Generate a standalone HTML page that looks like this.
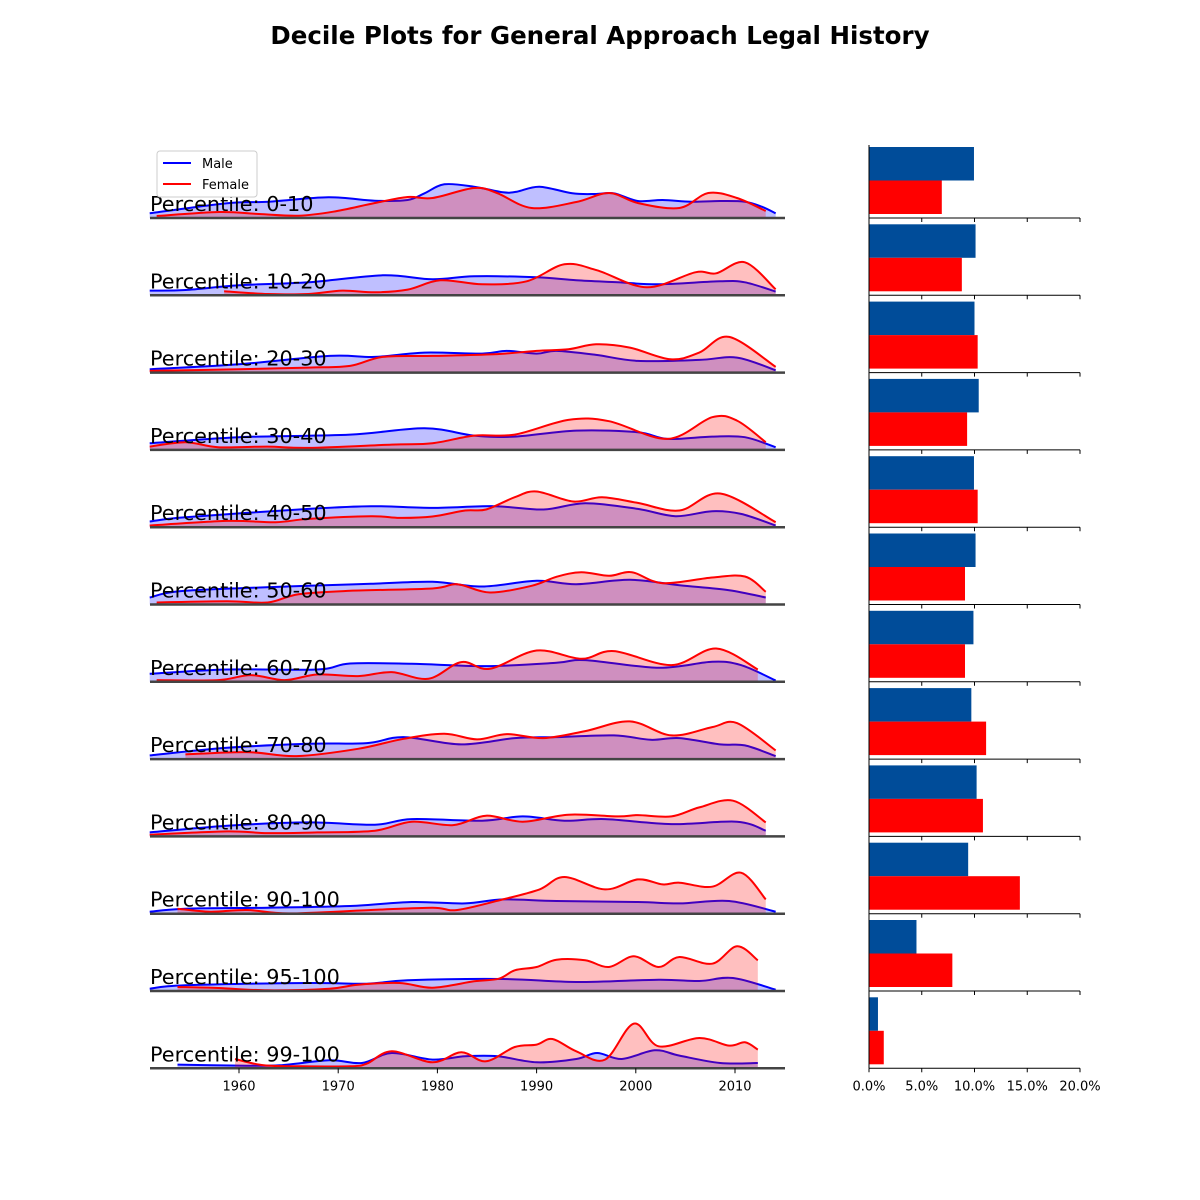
<!DOCTYPE html>
<html><head><meta charset="utf-8"><style>
body{margin:0;background:#fff}
svg{display:block;font-family:"DejaVu Sans","Liberation Sans",sans-serif}
</style></head><body>
<svg id="chart" width="1200" height="1200" viewBox="0 0 1200 1200" xmlns="http://www.w3.org/2000/svg">
<rect width="1200" height="1200" fill="#fff"/>
<text x="600" y="44" text-anchor="middle" font-size="24.5" font-weight="bold">Decile Plots for General Approach Legal History</text>
<g id="rows"></g>
<g id="legend">
<rect x="157" y="151" width="100" height="46" rx="3" fill="#fff" stroke="#ccc"/>
<line x1="163" y1="163" x2="191" y2="163" stroke="#00f" stroke-width="2"/>
<text x="202" y="168" font-size="13">Male</text>
<line x1="163" y1="184" x2="191" y2="184" stroke="#f00" stroke-width="2"/>
<text x="202" y="189" font-size="13">Female</text>
</g>
</svg>
<script>
const labels=["0-10","10-20","20-30","30-40","40-50","50-60","60-70","70-80","80-90","90-100","95-100","99-100"];
const maleYears=[
[1951,1958.8,1963,1969,1973.7,1977,1978.7,1980.7,1983.7,1986.6,1988,1990.3,1993.6,1996,1997.8,2000.2,2002.7,2005.6,2008.5,2011,2012.7,2014.1],
[1951,1954.6,1960,1967,1974.5,1979.5,1983.7,1990,1994,1998.2,2002.3,2008.5,2011,2014.1],
[1951,1960,1969.1,1973.7,1978.7,1984.5,1987,1990,1992,1996,2000.2,2006.4,2010.2,2014.1],
[1951,1960,1971.2,1978.7,1983.7,1987.8,1994,2000.2,2003.2,2007.7,2011,2014.1],
[1951,1954.6,1967,1973.3,1979.5,1985.7,1990.7,1994.9,2000.2,2004,2007.7,2010.6,2014.1],
[1951,1954.6,1967,1973.3,1979.5,1984.5,1990,1994,1999.4,2004.4,2009.4,2013.1],
[1951,1958.8,1967.9,1971.2,1977.4,1984.9,1992,1994.9,2002.3,2007.7,2010.6,2014.1],
[1951,1958.8,1967,1972.9,1976.6,1982.4,1987.8,1992,1997.8,2001.5,2004.4,2008.5,2011,2014.1],
[1951,1958.8,1967,1973.7,1977.4,1984.5,1988.6,1992.8,1996.9,2003.6,2010.2,2013.1],
[1951,1954.6,1962.9,1971.2,1977.4,1982.8,1986.6,1992,2000.2,2004.4,2009.4,2014.1],
[1951,1954.6,1967,1972.9,1977,1986.6,1994,2002.3,2006.4,2009.8,2014.1],
[1953.8,1960,1964.1,1969.1,1972.4,1975.4,1979.5,1982.8,1986.1,1990,1994,1996.1,1998.6,2001.9,2004.4,2008.5,2012.3]];
const maleVals=[
[4.7,14.7,16.3,20.7,17.3,18,24.7,33.7,31.3,25.7,26.3,31.3,24.7,24,24.7,17,18,16.3,17,16.3,11.3,4.7],
[4.7,5.3,10,13,20,16,19,18,15,13,11,14,13,3.7],
[3.3,8.3,16.7,15.7,20,19,21.7,19,21.7,17.7,11.7,12.7,15,2.3],
[6.7,12.7,15.3,21.7,14.3,13.3,19.3,17.7,11,13.3,12.7,2.7],
[5.7,10,18.3,21,19.3,21,17.7,24,18.3,11,16,13.3,1.7],
[7,13.7,18.7,20.7,22.7,18,23.7,20.3,24.7,19.3,14.3,7],
[8,12.3,12.3,18.3,18,15.7,19,21.7,14,20,16.7,1.3],
[3.7,11.3,15.3,16,22,14.7,21,22,23.7,19.3,21,14.7,13.7,3],
[4,10.7,14,11.7,17.3,15.7,20,15.7,17.3,12.3,14.7,5.7],
[2,5,6,7.7,11.7,10.3,14.3,12.7,11.7,10.3,12.7,2],
[2.3,5.7,8,7.3,10.7,12,9,11.3,10,13,1.3],
[3.7,2.7,3,8,5.3,15.3,8.7,12,12,6,9.3,15.3,9.3,18,12.7,5.3,5.3]];
const femaleYears=[
[1951.7,1958,1962,1966,1969.5,1973.7,1977,1979.5,1983.7,1986,1989.5,1994,1997.3,2000.2,2004.4,2007.3,2010.2,2013.1],
[1958.5,1962.9,1967,1970.4,1973.7,1977,1980.3,1984.5,1989,1992.8,1996.1,2001.1,2006,2008.1,2011,2014.1],
[1951,1960,1967,1971.2,1974.5,1979.5,1985.7,1990,1993.2,1996,1999.4,2003.5,2006.4,2009.4,2014.1],
[1951,1954.6,1957.9,1962.9,1967,1975.4,1979.5,1983.7,1987.8,1993.2,1997.3,2003.2,2007.7,2010.2,2013.1],
[1951,1958.8,1963.7,1967,1973.3,1976.2,1979.5,1982.8,1984.9,1987.8,1990,1993.7,1996.6,2000.2,2004.4,2008.5,2014.1],
[1951.7,1958.8,1962.9,1966,1971.2,1979.5,1982,1985.3,1989.5,1992,1994.5,1997.3,1999.6,2002.7,2007.7,2011,2013.1],
[1951.7,1957.9,1961.2,1964.6,1967.9,1972,1975.4,1979.1,1982.4,1985.3,1990,1994.5,1997.8,2003.6,2008.1,2012.3],
[1954.6,1960.8,1965.8,1972,1976.6,1980.7,1984,1987,1990.7,1994.9,1999.4,2003.6,2007.7,2010.2,2014.1],
[1951,1958.8,1962.9,1967.9,1973.7,1977.4,1981.6,1984.9,1988.6,1993.2,1998.2,2000.2,2003.6,2006.4,2009.8,2013.1],
[1953.8,1957.1,1960.8,1965,1973.3,1979.5,1982,1986.6,1990.3,1992.8,1996.9,2000.2,2002.7,2004.4,2007.7,2010.6,2013.1],
[1953.8,1957.9,1962.9,1969.1,1972,1976.2,1979.5,1983.7,1986.2,1987.8,1990,1992,1994.9,1997.3,1999.8,2002.3,2004.4,2007.7,2010.2,2012.3],
[1959.6,1962.5,1966.2,1971.2,1972.9,1975.4,1979.5,1982.4,1984.9,1987.8,1990,1991.6,1994,1996.9,1999.8,2002.3,2006.4,2009.4,2011,2012.3]];
const femaleVals=[
[2,6,4,2.3,6.3,15,21,20,30,25,10,16,25,15,10,25,20,7],
[4,1.3,1.3,4.7,3,5.7,15,11,14,31,25,8,23,22,33,6],
[1.7,3.3,5,6.7,15.7,16.7,18.3,21.7,23.3,28.3,25,13.3,20,35.7,5.7],
[3.3,7.7,2.7,3.3,2,5.3,6.7,14.3,15.3,30,28.7,11,32.7,29.3,7.7],
[1.7,6.3,5,8.3,11,9.3,10.7,16.7,17.7,30,35.7,25.7,30,24.3,16.7,33.7,5],
[2,3.3,2,10.3,13.7,16,20.3,12,18.7,27.7,32.3,28.7,32.3,21.3,27,28,12.7],
[1.7,1.7,6.7,1.7,7.3,5.7,9.7,3,19.7,13,31.3,23,30.7,16.7,33.3,12.3],
[4.7,7,3,10.3,20.3,25.3,19.7,25,21,28,37.7,23.7,32,36,8.7],
[1.7,5,3.3,4,5.7,14.7,11.3,20.7,14.7,21.7,20,21.3,20,29,35.7,14],
[5,2,3.7,0.3,3.7,6,3.7,14.3,24.3,36.7,24.3,34.3,29.3,31,27,41,14.3],
[4,3,0.7,2.3,6.3,8,3.3,9.7,12.3,20.7,24,31.3,30.7,24,34.7,24,34,27.3,44.7,30.7],
[9.3,3,2,2,4.7,17,6,16,7,21.3,23.7,29.3,17,8.7,44.7,22,30.3,22.7,26,18.7]];
const malePct=[9.95,10.1,10.0,10.4,9.95,10.1,9.9,9.7,10.2,9.4,4.5,0.85];
const femalePct=[6.9,8.8,10.3,9.3,10.3,9.1,9.1,11.1,10.8,14.3,7.9,1.4];
const yearTicks=[1960,1970,1980,1990,2000,2010];
const pctTicks=[0,5,10,15,20];

const NS="http://www.w3.org/2000/svg";
const X0=150,X1=785;
const xYear=y=>239+(y-1960)*9.92;
const yDens=(base,v)=>base-v;
const xPct=p=>869+p*10.55;
const baseY=i=>218+i*77.3;
function mk(tag,attrs,parent){const e=document.createElementNS(NS,tag);for(const k in attrs)e.setAttribute(k,attrs[k]);parent.appendChild(e);return e;}
function smooth(pts){let d=`M${pts[0][0]},${pts[0][1]}`;for(let i=0;i<pts.length-1;i++){const p0=pts[Math.max(0,i-1)],p1=pts[i],p2=pts[i+1],p3=pts[Math.min(pts.length-1,i+2)];const c1x=p1[0]+(p2[0]-p0[0])/6,c1y=p1[1]+(p2[1]-p0[1])/6,c2x=p2[0]-(p3[0]-p1[0])/6,c2y=p2[1]-(p3[1]-p1[1])/6;d+=` C${c1x},${c1y} ${c2x},${c2y} ${p2[0]},${p2[1]}`;}return d;}
const root=document.getElementById('rows');
function series(g,years,vals,base,color,name){
  const pts=years.map((y,k)=>[xYear(y),yDens(base,vals[k])]);
  const line=smooth(pts);
  const area=mk('path',{d:line+` L${pts[pts.length-1][0]},${base} L${pts[0][0]},${base} Z`,fill:color,'fill-opacity':0.25,stroke:'none'},g);
  
  
  const l=mk('path',{d:line,fill:'none',stroke:color,'stroke-width':2},g);
  
  
}
labels.forEach((lab,i)=>{
  const b=baseY(i);
  const g=mk('g',{},root);
  
  
  series(g,maleYears[i],maleVals[i],b,'#0000ff','male-density-'+lab);
  series(g,femaleYears[i],femaleVals[i],b,'#ff0000','female-density-'+lab);
  const ax=mk('line',{x1:X0,x2:X1,y1:b,y2:b,stroke:'#444','stroke-width':2.5},g);
  
  
  const t=mk('text',{x:150,y:b-7,'font-size':20.8},g);
  t.textContent='Percentile: '+lab;
  
  
  const bm=mk('rect',{x:869,y:b-71,width:xPct(malePct[i])-869,height:33.5,fill:'#004c99'},g);
  
  
  const bf=mk('rect',{x:869,y:b-37.5,width:xPct(femalePct[i])-869,height:33.5,fill:'#ff0000'},g);
  
  
  const bx=mk('line',{x1:869,x2:1080,y1:b,y2:b,stroke:'#000','stroke-width':1},g);
  
  
  pctTicks.forEach(p=>{const tk=mk('line',{x1:xPct(p),x2:xPct(p),y1:b,y2:b+4,stroke:'#000','stroke-width':1},g);
    
    });
});
const sp=mk('line',{x1:869,x2:869,y1:145,y2:baseY(11),stroke:'#000','stroke-width':1},root);


const lb=baseY(11);
yearTicks.forEach(y=>{
  const tk=mk('line',{x1:xYear(y),x2:xYear(y),y1:lb,y2:lb+5,stroke:'#000'},root);
  
  
  const t=mk('text',{x:xYear(y),y:lb+22,'font-size':13,'text-anchor':'middle'},root);
  t.textContent=y;
  
  
});
pctTicks.forEach(p=>{
  const t=mk('text',{x:xPct(p),y:lb+22,'font-size':13,'text-anchor':'middle'},root);
  t.textContent=p.toFixed(1)+'%';
  
  
});
</script>
</body></html>
